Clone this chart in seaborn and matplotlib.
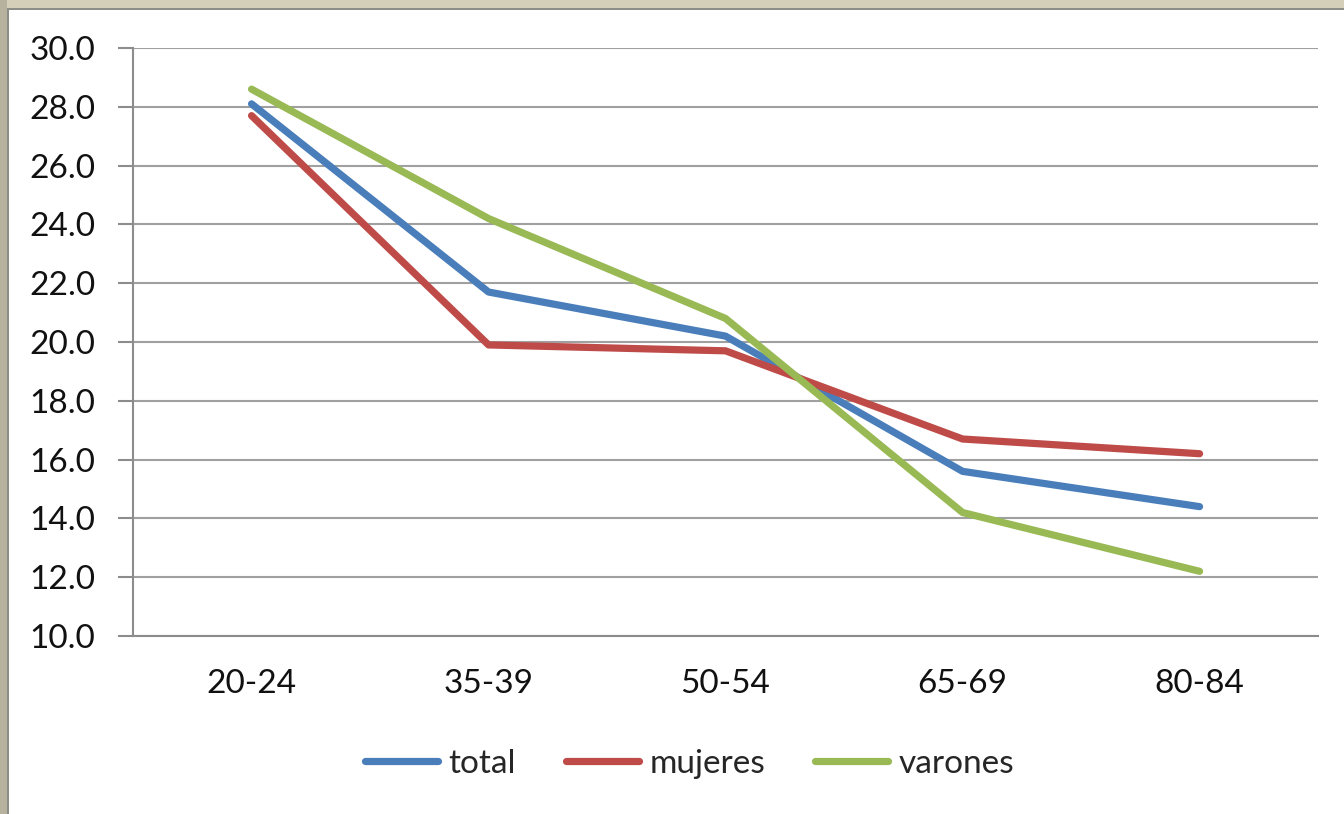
import pandas as pd
import matplotlib
matplotlib.use("Agg")
import matplotlib.pyplot as plt
import seaborn as sns
from matplotlib.patches import Rectangle

# Datos
grupos = ["20-24", "35-39", "50-54", "65-69", "80-84"]
total = [28.1, 21.7, 20.2, 15.6, 14.4]
mujeres = [27.7, 19.9, 19.7, 16.7, 16.2]
varones = [28.6, 24.2, 20.8, 14.2, 12.2]

series = ["total", "mujeres", "varones"]
colores = ["#4A7EBB", "#BE4B48", "#98B954"]

df = pd.DataFrame({
    "pos": list(range(len(grupos))) * 3,
    "valor": total + mujeres + varones,
    "serie": [s for s in series for _ in grupos],
})

sns.set_style("white")
plt.rcParams["font.family"] = ["Lato", "DejaVu Sans"]

fig = plt.figure(figsize=(13.44, 8.14), dpi=100)
ax = fig.add_axes([0.099, 0.2187, 0.8817, 0.7223])

sns.lineplot(data=df, x="pos", y="valor", hue="serie", palette=colores,
             hue_order=series, linewidth=5.2, ax=ax, legend=False,
             solid_capstyle="round", solid_joinstyle="round")

ax.set_ylim(10, 30)
ax.set_xlim(-0.5, len(grupos) - 0.5)
ax.set_yticks(range(10, 31, 2))
ax.set_yticklabels([f"{v:.1f}" for v in range(10, 31, 2)], fontsize=24, color="#111111")
ax.set_xticks(range(len(grupos)))
ax.set_xticklabels(grupos, fontsize=24, color="#111111")
ax.set_xticks([i - 0.5 for i in range(len(grupos) + 1)], minor=True)
ax.tick_params(axis="x", which="major", length=0, pad=24)
ax.tick_params(axis="x", which="minor", length=8, color="#8C8C8C", width=1.5, direction="out")
ax.tick_params(axis="y", length=11, color="#8C8C8C", width=1.5, pad=16, left=True)
ax.set_xlabel("")
ax.set_ylabel("")

ax.grid(axis="y", color="#A0A0A0", linewidth=1.5)
ax.set_axisbelow(True)
for side in ["top", "right"]:
    ax.spines[side].set_visible(False)
for side in ["left", "bottom"]:
    ax.spines[side].set_color("#8C8C8C")
    ax.spines[side].set_linewidth(1.5)

handles = [plt.Line2D([], [], color=c, linewidth=5.2, solid_capstyle="round") for c in colores]
fig.legend(handles, series, loc="center", bbox_to_anchor=(0.513, 0.062), ncol=3,
           frameon=False, fontsize=24, handlelength=2.2, handletextpad=0.3,
           columnspacing=1.5)

# marco de la imagen
fig.patches.append(Rectangle((0, 1 - 8 / 814), 1, 8 / 814, transform=fig.transFigure,
                             facecolor="#D5CFBA", edgecolor="none", zorder=0))
fig.patches.append(Rectangle((0, 1 - 10 / 814), 1, 2 / 814, transform=fig.transFigure,
                             facecolor="#8E8E88", edgecolor="none", zorder=0))
fig.patches.append(Rectangle((0, 0), 7 / 1344, 1, transform=fig.transFigure,
                             facecolor="#B7B29E", edgecolor="none", zorder=0))
fig.patches.append(Rectangle((7 / 1344, 0), 2 / 1344, 1 - 8 / 814, transform=fig.transFigure,
                             facecolor="#8E8E88", edgecolor="none", zorder=0))

fig.savefig("out.png", dpi=100)
